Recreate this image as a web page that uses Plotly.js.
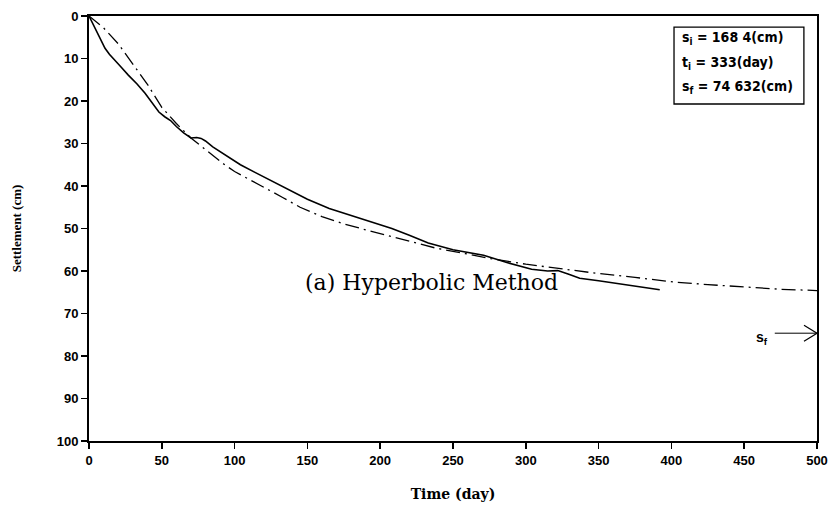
<!DOCTYPE html>
<html>
<head>
<meta charset="utf-8">
<script src="https://cdn.plot.ly/plotly-3.0.1.min.js"></script>
<style>html,body{margin:0;padding:0;background:#fff;}#chart{width:835px;height:513px;}</style>
</head>
<body>
<div id="chart"></div>
<script>
// Measured settlement (solid line)
const measuredTime = [0, 6, 11, 14, 17, 22, 27, 33, 38.5, 44, 48, 52, 56, 60, 65, 70, 74, 77, 80, 85, 95, 104, 114, 124, 137, 150, 165, 180, 195, 208, 220, 233, 250, 271, 287, 304, 315, 322, 330, 337, 350, 365, 380, 392];
const measuredSettlement = [0, 4, 7.6, 9, 10.2, 12, 13.9, 16, 18.2, 20.8, 22.6, 23.7, 24.6, 26, 27.5, 28.7, 28.6, 28.8, 29.4, 30.8, 33, 35, 36.8, 38.6, 40.9, 43.1, 45.3, 47, 48.6, 50, 51.6, 53.4, 55, 56.3, 58, 59.6, 60, 59.9, 60.8, 61.7, 62.3, 63, 63.7, 64.4];

// Hyperbolic prediction (dash-dot line)
const predictedTime = [0, 10, 20, 30, 40, 50, 60, 70, 80, 92, 100, 113, 125, 133, 145, 160, 175, 192, 210, 238, 260, 276, 300, 332, 350, 375, 402, 425, 449, 475, 500];
const predictedSettlement = [0, 2.8, 6.5, 11.2, 16, 21.5, 25.3, 28.7, 31.5, 34.7, 36.6, 38.9, 41.2, 42.7, 45, 47.2, 48.9, 50.5, 52.1, 54.6, 56, 57.1, 58.4, 59.8, 60.6, 61.5, 62.6, 63.2, 63.8, 64.3, 64.6];

// Axis ticks
const xTicks = [0, 50, 100, 150, 200, 250, 300, 350, 400, 450, 500];
const yTicks = [0, 10, 20, 30, 40, 50, 60, 70, 80, 90, 100];

// Box texts and final settlement
const boxLines = ["s<sub>i</sub> = 168 4(cm)", "t<sub>i</sub> = 333(day)", "s<sub>f</sub> = 74 632(cm)"];
const finalSettlement = 74.632;
const arrowTailTime = 471;
const maxTime = 500;

const tickFont = {family: "Liberation Sans, Arial, sans-serif", size: 13, color: "#000", weight: 700};
const serif = "Liberation Serif, Times New Roman, serif";
const wideSerif = "DejaVu Serif, Liberation Serif, serif";

const traces = [
  {x: measuredTime, y: measuredSettlement, mode: "lines", line: {color: "#000", width: 1.6}, hoverinfo: "skip"},
  {x: predictedTime, y: predictedSettlement, mode: "lines", line: {color: "#000", width: 1.3, dash: "14px,5px,2px,5px"}, hoverinfo: "skip"}
];

const boxFont = {family: "Liberation Sans Narrow, DejaVu Sans Condensed, Arial Narrow, sans-serif", size: 14, color: "#000", weight: 700};
const annotations = [
  {x: 235, y: 62.8, xref: "x", yref: "y", text: "(a) Hyperbolic Method", showarrow: false, font: {family: wideSerif, size: 22, color: "#000"}},
  {x: 462, y: 75.8, xref: "x", yref: "y", text: "s<sub>f</sub>", showarrow: false, font: {family: "Liberation Sans, Arial, sans-serif", size: 14, color: "#000", weight: 700}}
];
const boxY = [5.1, 11.0, 16.8];
boxLines.forEach((t, i) => {
  annotations.push({x: 406, y: boxY[i], xref: "x", yref: "y", xanchor: "left", text: t, showarrow: false, font: boxFont});
});

const layout = {
  width: 835, height: 513,
  margin: {l: 89, r: 18, t: 16, b: 72},
  paper_bgcolor: "#fff", plot_bgcolor: "#fff",
  showlegend: false,
  xaxis: {
    range: [0, 500], tickvals: xTicks, ticktext: xTicks.map(String),
    showgrid: false, zeroline: false, showline: true, mirror: true, linecolor: "#000", linewidth: 2,
    ticks: "outside", ticklen: 6, tickwidth: 1.5, tickcolor: "#000", tickfont: tickFont,
    title: {text: "Time (day)", font: {family: wideSerif, size: 14, color: "#000", weight: 700}, standoff: 23}
  },
  yaxis: {
    range: [100, 0], tickvals: yTicks, ticktext: yTicks.map(String),
    showgrid: false, zeroline: false, showline: true, mirror: true, linecolor: "#000", linewidth: 2,
    ticks: "outside", ticklen: 6, tickwidth: 1.5, tickcolor: "#000", tickfont: tickFont,
    title: {text: "Settlement (cm)", font: {family: serif, size: 13, color: "#000", weight: 700}, standoff: 32}
  },
  shapes: [
    {type: "rect", xref: "x", yref: "y", x0: 401.8, x1: 491, y0: 2.6, y1: 20.7, line: {color: "#000", width: 1.3}, fillcolor: "rgba(0,0,0,0)"},
    {type: "line", xref: "x", yref: "y", x0: arrowTailTime, x1: maxTime, y0: finalSettlement, y1: finalSettlement, line: {color: "#000", width: 1}},
    {type: "path", xref: "x", yref: "y", xsizemode: "pixel", ysizemode: "pixel", xanchor: maxTime, yanchor: finalSettlement,
     path: "M-13,8 L0,0 L-13,-8", line: {color: "#000", width: 1.2}, fillcolor: "rgba(0,0,0,0)"}
  ],
  annotations: annotations
};

Plotly.newPlot("chart", traces, layout, {displayModeBar: false, staticPlot: true});
</script>
</body>
</html>
